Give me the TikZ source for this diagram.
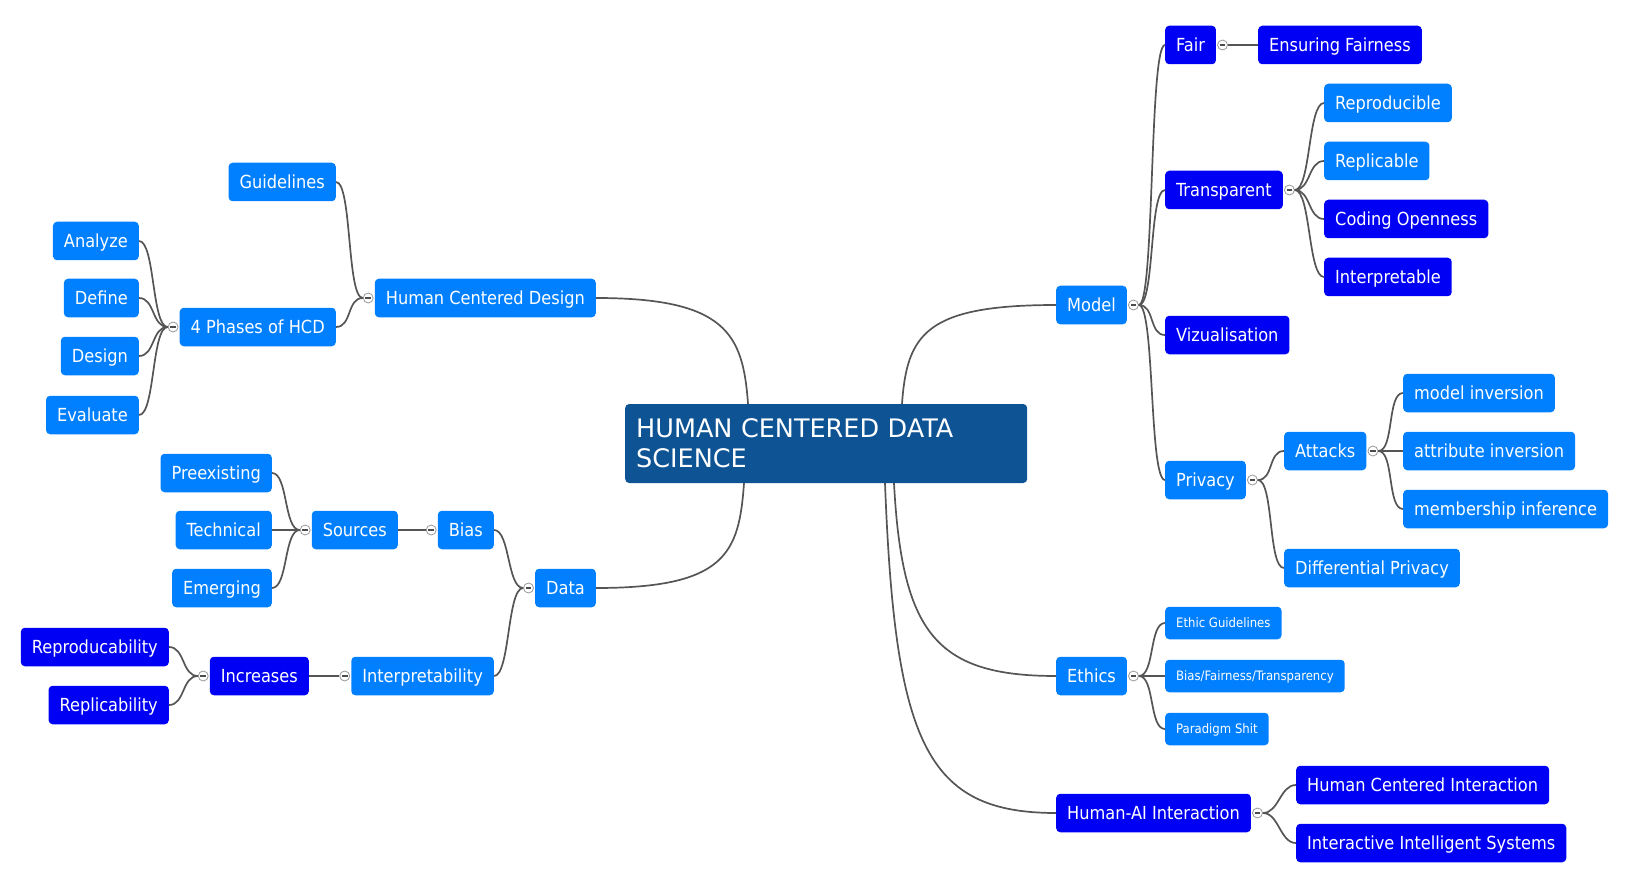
\documentclass[tikz,border=0pt]{standalone}
\usepackage{fontspec}
\setmainfont{DejaVu Sans Condensed}
\newfontfamily\rootfont{DejaVu Sans}
\usepackage{tikz}
\usetikzlibrary{positioning}

\definecolor{liteblue}{RGB}{0,128,255}
\definecolor{deepblue}{RGB}{0,0,245}
\definecolor{rootblue}{RGB}{14,83,147}
\definecolor{linegray}{RGB}{85,85,85}

\begin{document}
\begin{tikzpicture}[x=1pt,y=-1pt,
		topic/.style={rectangle,rounded corners=4pt,text=white,minimum height=38.5pt,
			inner xsep=11pt,text height=13pt,text depth=0pt,font=\fontsize{18}{21}\selectfont},
		lite/.style={topic,fill=liteblue},
		deep/.style={topic,fill=deepblue},
		small/.style={lite,minimum height=32.5pt,text height=9.5pt,text depth=0pt,
			font=\fontsize{13}{15}\selectfont},
		knob/.style={circle,draw=gray!80,fill=white,line width=0.8pt,minimum size=10pt,inner sep=0pt,
			path picture={\draw[line width=1.5pt,black!70]
				([xshift=-2.8pt]path picture bounding box.center) --
				([xshift=2.8pt]path picture bounding box.center);}},
		link/.style={draw=linegray,line width=1.7pt},
		branch/.style={link,to path={.. controls +(16,0) and +(-16,0) .. (\tikztotarget)}}]
		\useasboundingbox (0,0) rectangle (1630,885);
		
		\node[rectangle,rounded corners=4pt,fill=rootblue,text=white,minimum height=79pt,
			text width=380pt,inner xsep=11pt,align=left,anchor=west,
			font=\rootfont\fontsize{25.5}{30}\selectfont] (root) at (625,443.5)
			{HUMAN CENTERED DATA\\SCIENCE};
		
		% right side
		\node[lite,anchor=west] (model) at (1056,305) {Model};
		\node[deep,anchor=west] (fair) at (1165,45) {Fair};
		\node[deep,anchor=west] (ensure) at (1258,45) {Ensuring Fairness};
		\node[deep,anchor=west] (transp) at (1165,190) {Transparent};
		\node[lite,anchor=west] (reprod) at (1324,103) {Reproducible};
		\node[lite,anchor=west] (replic) at (1324,161) {Replicable};
		\node[deep,anchor=west] (coding) at (1324,219) {Coding Openness};
		\node[deep,anchor=west] (interp) at (1324,277) {Interpretable};
		\node[deep,anchor=west] (vizual) at (1165,335) {Vizualisation};
		\node[lite,anchor=west] (privacy) at (1165,480) {Privacy};
		\node[lite,anchor=west] (attacks) at (1284,451) {Attacks};
		\node[lite,anchor=west] (modinv) at (1403,393) {model inversion};
		\node[lite,anchor=west] (attinv) at (1403,451) {attribute inversion};
		\node[lite,anchor=west] (member) at (1403,509) {membership inference};
		\node[lite,anchor=west] (diffpriv) at (1284,568) {Differential Privacy};
		\node[lite,anchor=west] (ethics) at (1056,676) {Ethics};
		\node[small,anchor=west] (ethguide) at (1165,623) {Ethic Guidelines};
		\node[small,anchor=west] (biasfair) at (1165,676) {Bias/Fairness/Transparency};
		\node[small,anchor=west] (paradigm) at (1165,729) {Paradigm Shit};
		\node[deep,anchor=west] (humanai) at (1056,813) {Human-AI Interaction};
		\node[deep,anchor=west] (hci) at (1296,785) {Human Centered Interaction};
		\node[deep,anchor=west] (iis) at (1296,843) {Interactive Intelligent Systems};
		
		% left side
		\node[lite,anchor=east] (hcd) at (596,298) {Human Centered Design};
		\node[lite,anchor=east] (guide) at (336,182) {Guidelines};
		\node[lite,anchor=east] (phases) at (336,327) {4 Phases of HCD};
		\node[lite,anchor=east] (analyze) at (139,241) {Analyze};
		\node[lite,anchor=east] (define) at (139,298) {Define};
		\node[lite,anchor=east] (design) at (139,356) {Design};
		\node[lite,anchor=east] (evaluate) at (139,415) {Evaluate};
		\node[lite,anchor=east] (data) at (596,588) {Data};
		\node[lite,anchor=east] (bias) at (494,530) {Bias};
		\node[lite,anchor=east] (sources) at (398,530) {Sources};
		\node[lite,anchor=east] (preexist) at (272,473) {Preexisting};
		\node[lite,anchor=east] (technical) at (272,530) {Technical};
		\node[lite,anchor=east] (emerging) at (272,588) {Emerging};
		\node[lite,anchor=east] (interpr) at (494,676) {Interpretability};
		\node[deep,anchor=east] (increases) at (309,676) {Increases};
		\node[deep,anchor=east] (reproduc) at (169,647) {Reproducability};
		\node[deep,anchor=east] (replicab) at (169,705) {Replicability};
		
		% collapse knobs
		\node[knob] (model-k) [right=1pt of model] {};
		\node[knob] (fair-k) [right=1pt of fair] {};
		\node[knob] (transp-k) [right=1pt of transp] {};
		\node[knob] (privacy-k) [right=1pt of privacy] {};
		\node[knob] (attacks-k) [right=1pt of attacks] {};
		\node[knob] (ethics-k) [right=1pt of ethics] {};
		\node[knob] (humanai-k) [right=1pt of humanai] {};
		\node[knob] (hcd-k) [left=1pt of hcd] {};
		\node[knob] (phases-k) [left=1pt of phases] {};
		\node[knob] (data-k) [left=1pt of data] {};
		\node[knob] (bias-k) [left=1pt of bias] {};
		\node[knob] (sources-k) [left=1pt of sources] {};
		\node[knob] (interpr-k) [left=1pt of interpr] {};
		\node[knob] (increases-k) [left=1pt of increases] {};
		
		\draw[link] ([xshift=123pt]root.north west) .. controls +(-5,-70) and +(130,0) .. (hcd.east);
		\draw[link] ([xshift=119pt]root.south west) .. controls +(-5,70) and +(130,0) .. (data.east);
		\draw[link] ([xshift=277pt]root.north west) .. controls +(5,-70) and +(-130,0) .. (model.west);
		\draw[link] ([xshift=269pt]root.south west) .. controls +(8,150) and +(-120,0) .. (ethics.west);
		\draw[link] ([xshift=260pt]root.south west) .. controls +(10,260) and +(-130,0) .. (humanai.west);
		
		\path
		(model-k.east) edge[branch] (fair.west)
			edge[branch] (transp.west)
			edge[branch] (vizual.west)
			edge[branch] (privacy.west)
		(fair-k.east) edge[branch] (ensure.west)
		(transp-k.east) edge[branch] (reprod.west)
			edge[branch] (replic.west)
			edge[branch] (coding.west)
			edge[branch] (interp.west)
		(privacy-k.east) edge[branch] (attacks.west)
			edge[branch] (diffpriv.west)
		(attacks-k.east) edge[branch] (modinv.west)
			edge[branch] (attinv.west)
			edge[branch] (member.west)
		(ethics-k.east) edge[branch] (ethguide.west)
			edge[branch] (biasfair.west)
			edge[branch] (paradigm.west)
		(humanai-k.east) edge[branch] (hci.west)
			edge[branch] (iis.west)
		(guide.east) edge[branch] (hcd-k.west)
		(phases.east) edge[branch] (hcd-k.west)
		(analyze.east) edge[branch] (phases-k.west)
		(define.east) edge[branch] (phases-k.west)
		(design.east) edge[branch] (phases-k.west)
		(evaluate.east) edge[branch] (phases-k.west)
		(bias.east) edge[branch] (data-k.west)
		(interpr.east) edge[branch] (data-k.west)
		(sources.east) edge[branch] (bias-k.west)
		(preexist.east) edge[branch] (sources-k.west)
		(technical.east) edge[branch] (sources-k.west)
		(emerging.east) edge[branch] (sources-k.west)
		(increases.east) edge[branch] (interpr-k.west)
		(reproduc.east) edge[branch] (increases-k.west)
		(replicab.east) edge[branch] (increases-k.west)
		;
	\end{tikzpicture}
\end{document}
